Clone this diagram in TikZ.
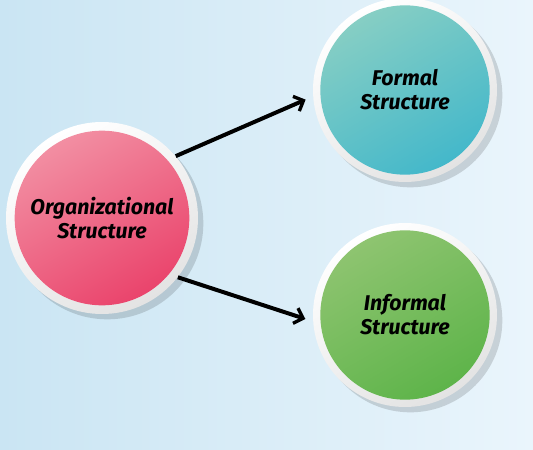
\documentclass[tikz,border=0pt]{standalone}
\usepackage{fontspec}
\setmainfont{Fira Sans}
\usepackage{tikz}
\usetikzlibrary{arrows.meta,positioning,shadows}

\definecolor{bgblue}{RGB}{202,229,243}
\definecolor{bglight}{RGB}{234,245,252}
\definecolor{pinklight}{RGB}{242,142,162}
\definecolor{pinkdark}{RGB}{234,68,108}
\definecolor{teallight}{RGB}{134,206,196}
\definecolor{tealdark}{RGB}{68,184,202}
\definecolor{greenlight}{RGB}{142,196,112}
\definecolor{greendark}{RGB}{94,180,74}

\begin{document}
\begin{tikzpicture}[x=0.75pt, y=-0.75pt,
        ring/.style={circle, inner sep=0pt, top color=white, bottom color=gray!22, shading angle=30,
            drop shadow={shadow xshift=4pt, shadow yshift=-4pt, opacity=0.14, fill=black}},
        bubble/.style={circle, inner sep=0pt, align=center, font=\bfseries\itshape\fontsize{16}{18}\selectfont},
        >={Straight Barb[length=6pt, width=12pt, line width=2.5pt]}
    ]
        % background
        \fill [left color=bgblue, right color=bglight] (0,0) rectangle (533,450);
        \useasboundingbox (0,0) rectangle (533,450);

        \node [ring, minimum size=144pt] (orgring) at (102,218) {};
        \node [bubble, minimum size=131pt, top color=pinklight, bottom color=pinkdark, shading angle=30] (org) at (102,218) {Organizational\\Structure};

        \node [ring, minimum size=138pt] (formring) at (405,90) {};
        \node [bubble, minimum size=127pt, top color=teallight, bottom color=tealdark, shading angle=30] (formal) at (405,90) {Formal\\Structure};

        \node [ring, minimum size=138pt] (infring) at (405,315) {};
        \node [bubble, minimum size=127pt, top color=greenlight, bottom color=greendark, shading angle=30] (informal) at (405,315) {Informal\\Structure};

        \draw [->, line width=3pt, shorten >=6pt] (orgring.40) -- (formring.184);
        \draw [->, line width=3pt, shorten >=6pt] (orgring.-38) -- (infring.184);
    \end{tikzpicture}
\end{document}
